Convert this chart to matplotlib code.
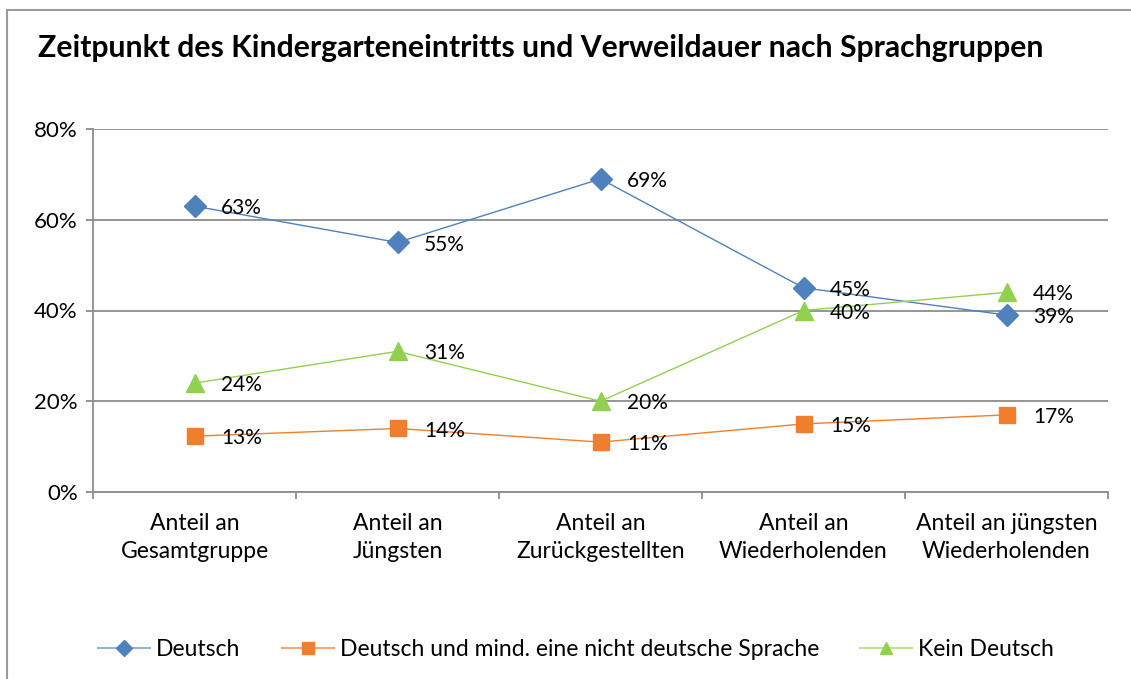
import matplotlib.pyplot as plt
from matplotlib.patches import Rectangle
from matplotlib.lines import Line2D

plt.rcParams['font.family'] = ['Lato', 'DejaVu Sans']

categories = ["Anteil an\nGesamtgruppe", "Anteil an\nJüngsten", "Anteil an\nZurückgestellten",
              "Anteil an\nWiederholenden", "Anteil an jüngsten\nWiederholenden"]
deutsch = [63, 55, 69, 45, 39]
gemischt = [12.3, 14, 11, 15, 17]
gemischt_labels = [13, 14, 11, 15, 17]
kein_deutsch = [24, 31, 20, 40, 44]

# name, values, label values, colour, legend line colour, marker, size
series = [
    ("Deutsch", deutsch, deutsch, "#4F81BD", "#95B3D7", "D", 11),
    ("Deutsch und mind. eine nicht deutsche Sprache", gemischt, gemischt_labels, "#F07F2D", "#F6A972", "s", 11),
    ("Kein Deutsch", kein_deutsch, kein_deutsch, "#92D050", "#BDE393", "^", 13),
]

fig = plt.figure(figsize=(11.31, 6.79), dpi=100)
fig.patches.append(Rectangle((7 / 1131, -0.05), 1.2, (669 / 679) + 0.05, transform=fig.transFigure,
                             fill=False, edgecolor="#9a9a9a", linewidth=1.5))

ax = fig.add_axes([93 / 1131, 187 / 679, 1015 / 1131, 363 / 679])
x = [i + 0.5 for i in range(len(categories))]

for name, vals, labs, color, light, marker, ms in series:
    ax.plot(x, vals, color=color, marker=marker, markersize=ms, linewidth=1, label=name)
    for xi, v, lab in zip(x, vals, labs):
        ax.annotate(f"{lab}%", (xi, v), xytext=(19, -1.5), textcoords="offset points",
                    va="center", ha="left", fontsize=15)

ax.set_xlim(0, 5)
ax.set_ylim(0, 80)
ax.set_yticks([0, 20, 40, 60, 80])
ax.set_yticklabels([f"{t}%" for t in [0, 20, 40, 60, 80]], fontsize=16)
ax.yaxis.grid(True, color="#8c8c8c", linewidth=1.3)
ax.set_axisbelow(True)

ax.set_xticks(range(6))
ax.set_xticklabels([])
ax.set_xticks(x, minor=True)
ax.set_xticklabels(categories, minor=True, fontsize=16.5, linespacing=1.4)
ax.tick_params(axis="x", which="minor", length=0, pad=15)
ax.tick_params(axis="x", which="major", length=5, color="#8c8c8c", width=1.3)
ax.tick_params(axis="y", length=5, color="#8c8c8c", width=1.3, pad=6)

for s in ["top", "right"]:
    ax.spines[s].set_visible(False)
for s in ["left", "bottom"]:
    ax.spines[s].set_color("#8c8c8c")
    ax.spines[s].set_linewidth(1.3)

fig.text(38 / 1131, 1 - 48 / 679, "Zeitpunkt des Kindergarteneintritts und Verweildauer nach Sprachgruppen",
         fontsize=21.7, fontweight="bold", va="center", ha="left")

handles = [Line2D([], [], color=light, marker=m, markersize=8, markerfacecolor=c, markeredgecolor=c,
                  linewidth=1.5) for _, _, _, c, light, m, ms in series]
fig.legend(handles, [s[0] for s in series], loc="center", bbox_to_anchor=(576 / 1131, 1 - 650 / 679),
           ncol=3, frameon=False, fontsize=16.5, handlelength=2.27, columnspacing=1.8, handletextpad=0.26)

fig.savefig("out.png", dpi=100)
